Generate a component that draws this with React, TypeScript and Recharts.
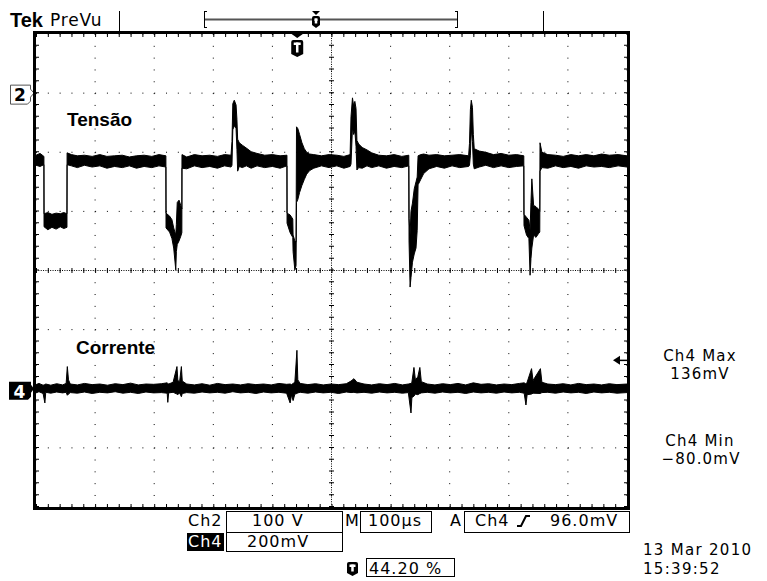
import { ComposedChart, Area, XAxis, YAxis, CartesianGrid, ReferenceLine, ReferenceDot } from 'recharts'

// scope screen: 10 div x 100us, Ch2 100 V/div, Ch4 200 mV/div
const W = 767
const H = 581
const MARGIN = { top: 34, right: 140, bottom: 74, left: 36 }
const FONT_UI = '"DejaVu Sans", sans-serif'
const FONT_LABEL = '"Liberation Sans", Arial, sans-serif'

const timeTicks = [0, 100, 200, 300, 400, 500, 600, 700, 800, 900, 1000]
const ch2Ticks = [-700, -600, -500, -400, -300, -200, -100, 0, 100]
const ch2Domain = [-700, 100]
const ch4Domain = [-400, 1200]
const triggerPos = 442 // us (44.20 %)
const triggerLevel = 96 // mV

// Ch2 (Tensão) envelope, time in us, volts
const ch2Time = [
  0, 6.8, 13.4, 13.6, 20, 27, 34, 41, 47, 52.4, 52.6, 60, 70, 82, 95, 108, 120, 133, 146, 158,
  170, 183, 196, 208, 219.8, 220, 226, 230, 233, 236.5, 237.5, 239, 242, 245, 246.8, 247, 255, 268, 281, 294,
  307, 319, 330, 331.6, 333, 335.5, 338.5, 340, 341.2, 344, 349, 356, 364, 374, 387, 400, 413, 424.6, 424.8, 430,
  434.5, 435, 438, 440, 440.8, 443, 446, 450, 454, 458, 463, 470, 483, 496, 509, 521, 531.5, 533, 535.5, 537.5,
  539.5, 541.5, 543, 546, 552, 560, 568, 580, 593, 606, 619, 630.8, 631.2, 633, 634.5, 637, 640, 643, 645, 646.5,
  651, 656, 665, 678, 691, 704, 717, 732, 733.5, 735, 736.5, 738.5, 740, 741.5, 750, 761, 774, 787, 800, 813,
  825.4, 825.7, 830, 834, 836, 837.5, 839, 842, 846, 850, 852.4, 852.8, 856, 866, 879, 892, 905, 918, 931, 944,
  957, 970, 985, 1000,
]
const ch2Low = [
  -122, -124, -121, -226, -231, -227, -230, -226, -229, -227, -121, -123, -126, -122, -125, -123, -127, -124, -126, -123,
  -127, -124, -126, -123, -125, -228, -235, -246, -262, -299, -268, -256, -250, -242, -236, -127, -128, -123, -126, -124,
  -127, -123, -125, -122, -62, -55, -60, -95, -132, -124, -126, -123, -127, -123, -126, -124, -127, -123, -220, -236,
  -244, -268, -299, -292, -185, -180, -168, -156, -146, -137, -131, -127, -123, -126, -123, -127, -124, -120, -58, -70,
  -64, -90, -130, -126, -127, -123, -126, -123, -127, -124, -126, -123, -250, -328, -312, -286, -272, -262, -232, -155,
  -146, -136, -128, -124, -127, -123, -126, -124, -122, -105, -60, -82, -120, -128, -125, -122, -126, -123, -126, -124,
  -123, -224, -240, -246, -308, -280, -262, -240, -244, -238, -235, -132, -126, -127, -123, -126, -124, -127, -123, -125,
  -124, -126, -123, -125,
]
const ch2High = [
  -105, -102, -107, -204, -202, -205, -203, -204, -202, -204, -101, -104, -106, -105, -107, -104, -107, -106, -105, -108,
  -106, -105, -107, -104, -106, -203, -208, -214, -228, -240, -222, -185, -181, -190, -196, -104, -108, -104, -106, -105,
  -107, -104, -105, -82, -18, -12, -20, -45, -78, -84, -88, -93, -99, -102, -105, -104, -106, -105, -203, -206,
  -213, -240, -250, -252, -57, -60, -70, -84, -94, -100, -103, -104, -106, -104, -105, -107, -104, -40, -8, -22,
  -14, -26, -80, -86, -92, -96, -101, -105, -106, -104, -107, -105, -212, -240, -200, -186, -162, -150, -142, -106,
  -104, -103, -105, -104, -106, -105, -104, -106, -85, -28, -12, -24, -70, -94, -98, -100, -104, -102, -105, -104,
  -106, -205, -210, -215, -232, -185, -145, -190, -192, -196, -200, -84, -100, -104, -105, -107, -104, -106, -104, -106,
  -103, -105, -104, -106,
]

// Ch4 (Corrente) envelope, time in us, millivolts
const ch4Time = [
  0, 5, 12, 15, 16.5, 25, 35, 45, 51, 53, 55, 58, 70, 82, 95, 108, 121, 134, 147, 160,
  173, 186, 199, 212, 222, 223, 224.5, 232, 238.5, 240, 243, 246, 247.5, 255, 268, 281, 294, 307, 320, 333,
  346, 359, 372, 385, 398, 411, 424, 430, 432.5, 435, 438, 441.5, 443, 447, 460, 473, 486, 499, 512, 525,
  533, 538, 543, 555, 568, 581, 594, 607, 620, 630, 634.5, 636, 639.5, 642, 646, 649.5, 652, 662, 675, 688,
  701, 714, 727, 740, 753, 766, 779, 792, 805, 818, 826, 829, 831, 838.5, 841, 853.5, 856, 866, 879, 892,
  905, 918, 931, 944, 957, 970, 983, 1000,
]
const ch4Low = [
  -14, -10, -16, -48, -12, -15, -11, -14, -12, -22, -18, -13, -15, -11, -16, -12, -14, -10, -15, -12,
  -16, -11, -14, -13, -15, -46, -14, -12, -18, -20, -14, -27, -16, -13, -15, -11, -14, -12, -15, -10,
  -14, -12, -16, -11, -14, -12, -15, -48, -20, -40, -18, -16, -14, -12, -15, -11, -14, -12, -16, -11,
  -13, -12, -14, -12, -15, -11, -14, -12, -15, -13, -82, -30, -25, -18, -20, -16, -14, -12, -15, -11,
  -14, -12, -16, -11, -14, -12, -15, -11, -14, -12, -15, -55, -20, -18, -15, -16, -13, -12, -15, -11,
  -14, -12, -16, -11, -14, -12, -15, -13,
]
const ch4High = [
  14, 18, 12, 14, 16, 12, 17, 13, 18, 75, 30, 16, 13, 18, 14, 16, 12, 17, 14, 19,
  13, 16, 15, 17, 20, 18, 16, 22, 75, 28, 24, 75, 26, 16, 13, 17, 12, 18, 14, 16,
  13, 17, 14, 16, 13, 18, 15, 16, 14, 18, 22, 130, 30, 18, 14, 17, 13, 16, 14, 17,
  26, 34, 22, 16, 13, 17, 14, 18, 13, 16, 18, 22, 72, 30, 40, 72, 24, 16, 13, 17,
  14, 18, 13, 20, 15, 17, 13, 16, 14, 18, 20, 16, 22, 68, 28, 68, 22, 16, 14, 17,
  13, 18, 14, 16, 13, 17, 14, 16,
]

const ch2Data = ch2Time.map((t, i) => ({ t, v: [ch2Low[i], ch2High[i]] }))
const ch4Data = ch4Time.map((t, i) => ({ t, v: [ch4Low[i], ch4High[i]] }))

function Shield({ cx, y, w, h }: { cx: number; y: number; w: number; h: number }) {
  const l = cx - w / 2
  const r = cx + w / 2
  return (
    <g>
      <path
        d={`M${l},${y + 2} Q${l},${y} ${l + 2},${y} H${r - 2} Q${r},${y} ${r},${y + 2} V${y + h - 3} L${cx},${y + h} L${l},${y + h - 3} Z`}
        fill="#000"
      />
      <rect x={l + 2.5} y={y + 2.5} width={w - 5} height={2.5} fill="#fff" />
      <rect x={cx - 1.25} y={y + 2.5} width={2.5} height={h - 7} fill="#fff" />
    </g>
  )
}

function TriggerMarker(props: any) {
  const { cx, cy } = props
  return (
    <g>
      <path d={`M${cx - 7},${cy - 1} L${cx + 7},${cy - 1} L${cx},${cy + 4} Z`} fill="#000" />
      <Shield cx={cx} y={cy + 6} w={12} h={17} />
    </g>
  )
}

function Ch2Marker(props: any) {
  const { cx, cy } = props
  return (
    <g>
      <path
        d={`M${cx - 25.5},${cy - 8} H${cx - 5.5} V${cy - 4} L${cx - 2},${cy} L${cx - 5.5},${cy + 4} V${cy + 8} L${cx - 8.5},${cy + 11} H${cx - 25.5} Z`}
        fill="#fff"
        stroke="#555"
        strokeWidth={1}
      />
      <text x={cx - 16} y={cy + 8} textAnchor="middle" fontFamily={FONT_UI} fontWeight="bold" fontSize={17} fill="#000">
        2
      </text>
    </g>
  )
}

function Ch4Marker(props: any) {
  const { cx, cy } = props
  return (
    <g>
      <path
        d={`M${cx - 27},${cy - 7} H${cx - 5} V${cy - 4} L${cx - 2},${cy} L${cx - 5},${cy + 4} V${cy + 8} L${cx - 8},${cy + 11} H${cx - 27} Z`}
        fill="#000"
      />
      <text x={cx - 16.5} y={cy + 9} textAnchor="middle" fontFamily={FONT_UI} fontWeight="bold" fontSize={17} fill="#fff">
        4
      </text>
    </g>
  )
}

function LevelArrow(props: any) {
  const { cx, cy } = props
  return (
    <g>
      <path d={`M${cx - 14},${cy} L${cx - 7},${cy - 4.5} L${cx - 7},${cy + 4.5} Z`} fill="#000" />
      <line x1={cx - 7} y1={cy} x2={cx} y2={cy} stroke="#000" strokeWidth={1.5} />
    </g>
  )
}

function ScopeChrome() {
  const ui = { fontFamily: FONT_UI, fill: '#000' }
  return (
    <svg width={W} height={H} style={{ position: 'absolute', left: 0, top: 0, pointerEvents: 'none' }}>
      {/* header */}
      <text x={10} y={27} fontFamily={FONT_LABEL} fontWeight="bold" fontSize={20} fill="#000">
        Tek
      </text>
      <text x={50} y={26} {...ui} fontSize={17} letterSpacing={0.8}>
        PreVu
      </text>
      <line x1={119.5} y1={11} x2={119.5} y2={31} stroke="#000" strokeWidth={1} />
      <line x1={204.5} y1={11} x2={204.5} y2={28} stroke="#000" strokeWidth={1} />
      <line x1={204.5} y1={11.5} x2={207} y2={11.5} stroke="#000" strokeWidth={1} />
      <line x1={204.5} y1={27.5} x2={207} y2={27.5} stroke="#000" strokeWidth={1} />
      <line x1={457.5} y1={11} x2={457.5} y2={28} stroke="#000" strokeWidth={1} />
      <line x1={455} y1={11.5} x2={457.5} y2={11.5} stroke="#000" strokeWidth={1} />
      <line x1={455} y1={27.5} x2={457.5} y2={27.5} stroke="#000" strokeWidth={1} />
      <rect x={205} y={18.5} width={252} height={2} fill="#555" />
      <path d="M312,11 L320,11 L316,15 Z" fill="#000" />
      <Shield cx={316} y={16} w={8} h={12} />
      <line x1={543.5} y1={11} x2={543.5} y2={31} stroke="#000" strokeWidth={1} />

      {/* frame */}
      <rect x={34.5} y={32.5} width={594} height={476} fill="none" stroke="#000" strokeWidth={3} />

      {/* trace labels */}
      <text x={67} y={126} fontFamily={FONT_LABEL} fontWeight="bold" fontSize={19} fill="#000">
        Tensão
      </text>
      <text x={76} y={354} fontFamily={FONT_LABEL} fontWeight="bold" fontSize={19} fill="#000">
        Corrente
      </text>

      {/* measurements */}
      <g {...ui} fontSize={15} letterSpacing={1.2} textAnchor="middle">
        <text x={700} y={361}>Ch4 Max</text>
        <text x={700} y={379}>136mV</text>
        <text x={700} y={446}>Ch4 Min</text>
        <text x={701} y={464}>−80.0mV</text>
      </g>

      {/* bottom readouts */}
      <g {...ui} fontSize={16} letterSpacing={1}>
        <text x={188} y={526}>Ch2</text>
        <rect x={226.5} y={511.5} width={116} height={21} fill="none" stroke="#000" />
        <text x={252} y={526}>100 V</text>
        <text x={345} y={526}>M</text>
        <rect x={360.5} y={511.5} width={71} height={21} fill="none" stroke="#000" />
        <text x={368} y={526}>100µs</text>
        <text x={450} y={526}>A</text>
        <rect x={464.5} y={511.5} width={165} height={21} fill="none" stroke="#000" />
        <text x={475} y={526}>Ch4</text>
        <path d="M517,526 H521 L526,516 H530" fill="none" stroke="#000" strokeWidth={2} />
        <text x={550} y={526}>96.0mV</text>

        <rect x={187} y={533} width={37} height={18} fill="#000" />
        <text x={188} y={547} fill="#fff">
          Ch4
        </text>
        <rect x={226.5} y={532.5} width={116} height={19} fill="none" stroke="#000" />
        <text x={247} y={547}>200mV</text>

        <Shield cx={352.5} y={562} w={11} h={14} />
        <rect x={366.5} y={558.5} width={88} height={18} fill="none" stroke="#000" />
        <text x={369} y={574}>44.20 %</text>
      </g>
      <g {...ui} fontSize={15} letterSpacing={1.3}>
        <text x={643} y={555}>13 Mar 2010</text>
        <text x={643} y={574}>15:39:52</text>
      </g>
    </svg>
  )
}

export default function App() {
  const layer = { position: 'absolute' as const, left: 0, top: 0 }
  return (
    <div style={{ position: 'absolute', left: 0, top: 0, width: W, height: H, background: '#fff' }}>
      <div style={layer}>
        <ComposedChart width={W} height={H} data={ch2Data} margin={MARGIN}>
          <XAxis dataKey="t" type="number" domain={[0, 1000]} ticks={timeTicks} hide allowDataOverflow />
          <YAxis type="number" domain={ch2Domain} ticks={ch2Ticks} hide allowDataOverflow />
          <CartesianGrid stroke="#000" strokeDasharray="1 10.82" />
          <ReferenceLine x={500} stroke="#000" strokeDasharray="1 1.364" />
          <ReferenceLine x={500} stroke="#000" strokeWidth={5} strokeDasharray="1 10.825" />
          <ReferenceLine y={-300} stroke="#000" strokeDasharray="1 1.364" />
          <ReferenceLine y={-300} stroke="#000" strokeWidth={5} strokeDasharray="1 10.82" />
          <ReferenceLine x={0} stroke="#000" strokeWidth={6} strokeDasharray="1 10.825" />
          <ReferenceLine x={1000} stroke="#000" strokeWidth={6} strokeDasharray="1 10.825" />
          <ReferenceLine y={-700} stroke="#000" strokeWidth={6} strokeDasharray="1 10.82" />
          <ReferenceLine y={100} stroke="#000" strokeWidth={6} strokeDasharray="1 10.82" />
          <Area
            dataKey="v"
            type="linear"
            stroke="#000"
            strokeWidth={1}
            fill="#000"
            fillOpacity={1}
            dot={false}
            activeDot={false}
            isAnimationActive={false}
          />
          <ReferenceDot x={0} y={0} ifOverflow="visible" shape={Ch2Marker} />
          <ReferenceDot x={triggerPos} y={ch2Domain[1]} ifOverflow="visible" shape={TriggerMarker} />
        </ComposedChart>
      </div>
      <div style={layer}>
        <ComposedChart width={W} height={H} data={ch4Data} margin={MARGIN}>
          <XAxis dataKey="t" type="number" domain={[0, 1000]} ticks={timeTicks} hide allowDataOverflow />
          <YAxis type="number" domain={ch4Domain} hide allowDataOverflow />
          <Area
            dataKey="v"
            type="linear"
            stroke="#000"
            strokeWidth={1}
            fill="#000"
            fillOpacity={1}
            dot={false}
            activeDot={false}
            isAnimationActive={false}
          />
          <ReferenceDot x={0} y={0} ifOverflow="visible" shape={Ch4Marker} />
          <ReferenceDot x={1000} y={triggerLevel} ifOverflow="visible" shape={LevelArrow} />
        </ComposedChart>
      </div>
      <ScopeChrome />
    </div>
  )
}
